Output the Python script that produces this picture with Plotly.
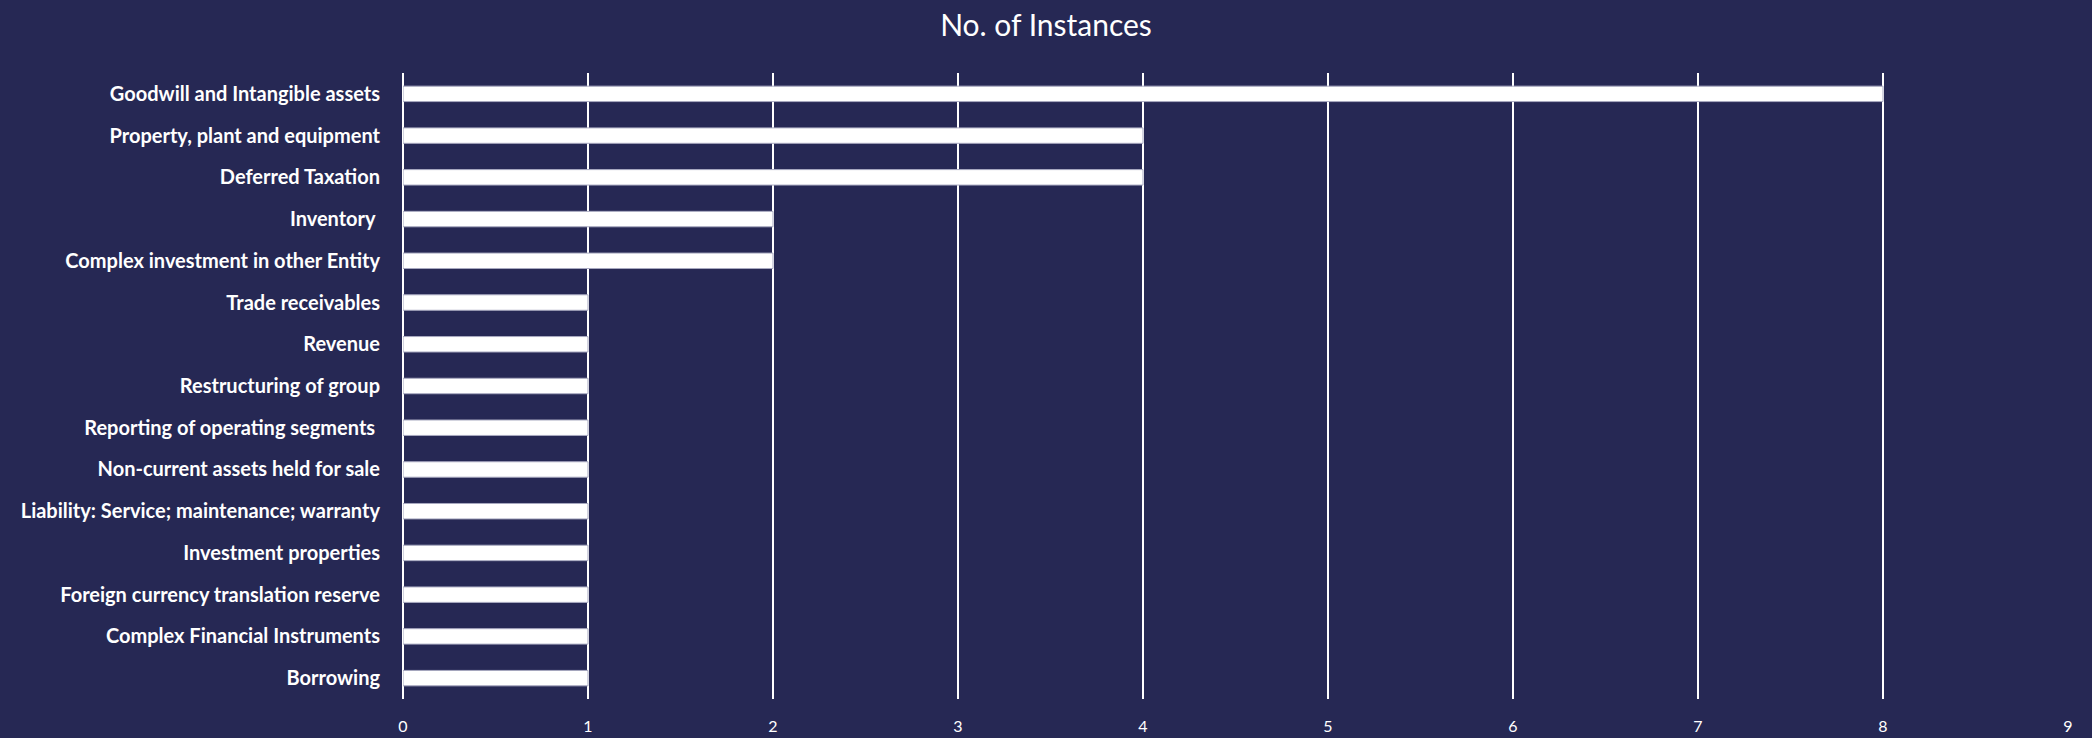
import plotly.graph_objects as go

categories = [
    "Goodwill and Intangible assets",
    "Property, plant and equipment",
    "Deferred Taxation",
    "Inventory\u00a0",
    "Complex investment in other Entity",
    "Trade receivables",
    "Revenue",
    "Restructuring of group",
    "Reporting of operating segments\u00a0",
    "Non-current assets held for sale",
    "Liability: Service; maintenance; warranty",
    "Investment properties",
    "Foreign currency translation reserve",
    "Complex Financial Instruments",
    "Borrowing",
]
values = [8, 4, 4, 2, 2, 1, 1, 1, 1, 1, 1, 1, 1, 1, 1]
x_ticks = [0, 1, 2, 3, 4, 5, 6, 7, 8, 9]

BG = "#262854"
FONT = "Lato, 'Open Sans', sans-serif"

fig = go.Figure(
    go.Bar(
        x=values,
        y=categories,
        orientation="h",
        width=0.37,
        marker=dict(color="#ffffff", line=dict(color="#a8a9c0", width=1)),
        hoverinfo="x+y",
    )
)

fig.update_layout(
    width=2092,
    height=738,
    paper_bgcolor=BG,
    plot_bgcolor=BG,
    margin=dict(l=403, r=24, t=73, b=39),
    title=dict(
        text="No. of Instances",
        x=0.5,
        xanchor="center",
        y=1 - 25 / 738,
        yanchor="middle",
        font=dict(family=FONT, size=30, color="#ffffff"),
    ),
    showlegend=False,
)

fig.update_xaxes(
    range=[0, 9],
    tickvals=x_ticks,
    ticktext=[str(v) for v in x_ticks],
    showgrid=True,
    gridcolor="#ffffff",
    gridwidth=1.5,
    zeroline=True,
    zerolinecolor="#ffffff",
    zerolinewidth=2,
    showline=False,
    ticks="outside",
    ticklen=13,
    tickcolor=BG,
    tickfont=dict(family=FONT, size=16, color="#ffffff"),
    automargin=False,
    fixedrange=True,
)

fig.update_yaxes(
    categoryorder="array",
    categoryarray=categories,
    autorange="reversed",
    showgrid=False,
    showline=False,
    ticks="outside",
    ticklen=18,
    tickcolor=BG,
    tickfont=dict(family=FONT, size=20, color="#ffffff", weight="bold"),
    automargin=False,
    fixedrange=True,
)

fig.write_html("out.html")
